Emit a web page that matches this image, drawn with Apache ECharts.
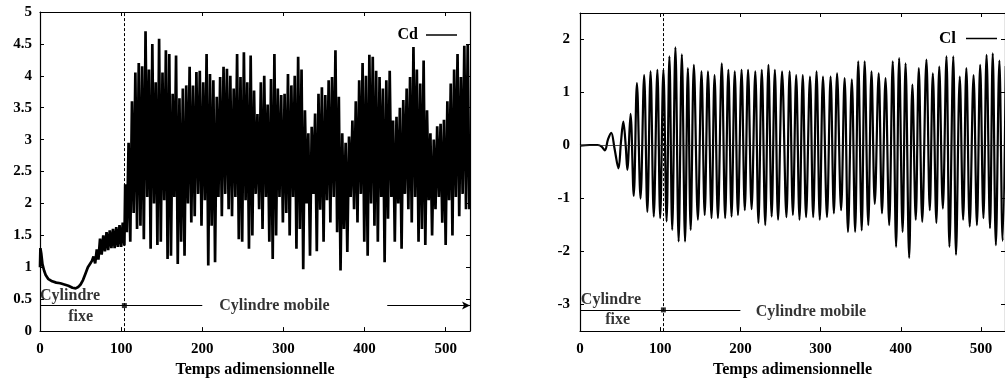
<!DOCTYPE html>
<html><head><meta charset="utf-8">
<script src="https://cdn.jsdelivr.net/npm/echarts@6/dist/echarts.min.js"></script>
<style>html,body{margin:0;padding:0;background:#fff}#c{width:1005px;height:383px}</style>
</head><body><div id="c"></div>
<script>
// ---- tick labels ----
const timeTicks = [0, 100, 200, 300, 400, 500];
const cdTicks = [0, 0.5, 1, 1.5, 2, 2.5, 3, 3.5, 4, 4.5, 5];
const clTicks = [-3, -2, -1, 0, 1, 2];

// ---- Cd : fixed-cylinder phase [time, Cd] ----
const cdFixed = [[0,1.0],[0.5,1.3],[1.5,1.22],[3,1.05],[5,0.95],[7,0.88],[10,0.82],[15,0.78],[20,0.76],[25,0.75],[30,0.73],[35,0.71],[40,0.68],[44,0.67],[47,0.69],[50,0.73],[53,0.8],[56,0.9],[59,1.0],[62,1.06],[64,1.1],[66,1.17],[68,1.06],[70,1.28],[72,1.12],[74,1.45],[76,1.2],[78,1.5],[80,1.25],[82,1.55],[84,1.27],[86,1.58],[88,1.3],[90,1.6],[92,1.3],[94,1.63],[96,1.32],[98,1.66],[100,1.32],[102,1.7],[104,1.34]];

// ---- Cd : moving-cylinder phase, one max and one min per shedding cycle ----
const cdMoveStart = 105;
const cdPeriod = 4.18;
const cdMax = [2.30,2.95,3.60,4.05,4.20,4.15,4.70,4.10,4.50,3.90,
 4.58,4.05,4.40,4.34,3.72,4.32,3.65,3.80,3.85,4.14,
 3.85,4.06,4.08,3.90,4.34,4.03,3.93,3.67,3.98,4.14,
 4.11,4.00,3.80,4.34,3.98,4.37,3.90,4.32,3.77,3.40,
 3.90,4.00,3.55,3.95,4.34,3.80,3.70,3.72,4.03,3.85,
 4.00,4.30,4.10,3.46,3.10,3.20,3.41,3.72,3.82,3.70,
 3.93,3.98,4.40,3.67,3.10,2.95,3.05,3.30,3.60,3.93,
 4.20,4.00,4.33,4.30,4.08,3.98,3.80,3.93,4.08,3.30,
 3.36,3.50,3.62,3.80,3.98,4.45,4.10,3.88,4.24,3.46,
 3.10,3.00,3.21,3.25,3.31,3.60,3.88,4.10,4.34,3.98,
 4.47,4.50];
const cdMin = [1.55,1.40,1.85,1.60,1.65,1.44,2.10,1.29,2.00,1.35,
 1.40,2.05,1.13,1.18,2.10,1.05,1.40,1.18,2.00,1.70,
 1.80,2.15,1.65,2.05,1.03,1.65,1.08,2.10,1.80,2.15,
 1.91,1.80,2.10,1.44,1.40,2.05,1.29,1.50,2.15,1.91,
 1.60,2.10,1.40,1.13,1.50,2.10,1.70,1.85,1.50,2.10,
 1.29,1.60,0.97,2.00,1.18,2.15,1.25,1.90,1.40,2.05,
 1.70,2.10,1.55,0.95,1.60,1.24,2.10,1.91,1.70,2.15,
 1.40,1.18,2.00,1.65,1.40,2.10,1.08,1.76,2.10,1.40,
 2.00,1.29,2.15,1.91,1.70,2.10,1.40,1.60,1.35,2.05,
 1.50,1.91,2.10,1.70,1.35,2.05,1.50,2.10,1.80,2.15,
 1.91,1.91];

// ---- Cl : extrema [time, Cl] ----
const clData = [[0,0],[12,0.01],[22,0.01],[27,-0.02],[31,-0.09],[35,0.12],[39,0.24],[43,-0.05],[48,-0.43],[51,0.05],[54,0.45],[57,0.0],[59,-0.46],[63,0.6],[67,-0.95],[71,1.18],[75.5,-1.0],[80,1.33],[84,-1.25],[88,1.40],[92,-1.34],[96.5,1.43],[100,-1.37],[104,1.43],[108,-1.43],[111.5,1.68],[115,-1.59],[119,1.85],[123,-1.81],[127,1.72],[131,-1.81],[134.5,1.46],[138,-1.59],[142,1.52],[147,-1.40],[151.5,1.40],[155.5,-1.31],[159.6,1.40],[164,-1.37],[167.8,1.33],[172,-1.37],[176.8,1.55],[181,-1.37],[185,1.43],[189,-1.34],[193,1.40],[197,-1.31],[201.5,1.43],[205.5,-1.22],[209.6,1.43],[214,-1.20],[218.6,1.40],[222.5,-1.46],[226.7,1.43],[231,-1.50],[235,1.52],[239,-1.34],[243,1.43],[247,-1.40],[252,1.40],[257.4,-1.35],[261.4,1.40],[265.5,-1.31],[269.6,1.33],[273.7,-1.40],[277.8,1.33],[281.9,-1.35],[286.8,1.30],[290.8,-1.35],[295,1.40],[299,-1.40],[303,1.30],[308,-1.35],[312.5,1.30],[316.6,-1.28],[320.6,1.36],[325.6,-1.22],[330,1.27],[334.2,-1.63],[339,1.25],[343.1,-1.63],[347,1.59],[351.3,-1.60],[355,1.59],[359.5,-1.50],[363.5,1.40],[367.6,-1.10],[372.5,1.36],[376.6,-1.28],[381,1.27],[385.6,-1.50],[390,1.59],[394.2,-1.91],[398,1.65],[402.3,-1.63],[406,1.55],[410.5,-2.12],[414.5,1.15],[418.7,-1.40],[422.5,1.46],[426.8,-1.44],[432,1.62],[436.2,-1.22],[440,1.36],[444.4,-1.46],[448,1.49],[452.5,-1.19],[457,1.68],[460.7,-1.91],[465.5,1.68],[468.9,-2.06],[473.6,1.30],[477.8,-1.40],[481.8,1.46],[486,-1.53],[490.8,1.33],[495,-1.50],[499,1.52],[503.1,-1.37],[507,1.71],[511.3,-1.56],[514.7,1.74],[518.6,-1.88],[523,1.60],[527,-1.80],[531,1.50]];

// ---- annotations (data coordinates) ----
const moveTime = 104;
const cdPhaseLevel = 0.4;
const clPhaseLevel = -3.1;
const fixedSpan = [0, 200];
const mobileArrowSpan = [428, 530];
const clMobileArrowSpan = [429, 545];
const cdNotes = [
  {name: 'Cylindre', value: [0, 0.55], pos: 'right'},
  {name: 'fixe', value: [50, 0.22], pos: 'inside'},
  {name: 'Cylindre mobile', value: [289, 0.40], pos: 'inside'}
];
const clNotes = [
  {name: 'Cylindre', value: [1, -2.91], pos: 'right'},
  {name: 'fixe', value: [47, -3.29], pos: 'inside'},
  {name: 'Cylindre mobile', value: [288, -3.14], pos: 'inside'}
];

// ---- build series data ----
const cdSeriesData = cdFixed.slice();
for (let i = 0; i < cdMax.length; i++) {
  const t = cdMoveStart + i * cdPeriod;
  cdSeriesData.push([t, cdMax[i]]);
  cdSeriesData.push([t + cdPeriod / 2, cdMin[i]]);
}

const FONT = "'Liberation Serif', 'DejaVu Serif', serif";
const txt = {color: '#000', fontFamily: FONT, fontWeight: 'bold', fontSize: 15};

function xAx(grid, pos, show) {
  return {
    type: 'value', gridIndex: grid, position: pos, min: 0, max: 530,
    axisLine: {show: true, onZero: false, lineStyle: {color: '#000', width: 1.2}},
    axisTick: {show: true, inside: true, length: 4, customValues: timeTicks, lineStyle: {color: '#000'}},
    axisLabel: Object.assign({show: show, margin: 11, customValues: timeTicks}, txt),
    splitLine: {show: false},
    name: show ? 'Temps adimensionnelle' : '', nameLocation: 'middle', nameGap: 28,
    nameTextStyle: Object.assign({}, txt, {fontSize: 16})
  };
}
function yAx(grid, pos, show, min, max, ticks, margin) {
  return {
    type: 'value', gridIndex: grid, position: pos, min: min, max: max,
    axisLine: {show: true, onZero: false, lineStyle: {color: '#000', width: 1.2}},
    axisTick: {show: true, inside: true, length: 4, customValues: ticks, lineStyle: {color: '#000'}},
    axisLabel: Object.assign({show: show, margin: margin, customValues: ticks}, txt),
    splitLine: {show: false}
  };
}

function notesSeries(xi, yi, notes) {
  return {
    type: 'scatter', xAxisIndex: xi, yAxisIndex: yi, symbolSize: 0.1,
    itemStyle: {color: 'rgba(0,0,0,0)'}, silent: true, z: 5,
    data: notes.map(n => ({name: n.name, value: n.value,
      label: {show: true, position: n.pos, distance: 0, formatter: '{b}', color: '#000',
        fontFamily: FONT, fontWeight: 'bold', fontSize: 16}}))
  };
}

function phaseSeries(xi, yi, level, arrowSpan, zeroLine) {
  return {
    type: 'scatter', xAxisIndex: xi, yAxisIndex: yi, symbol: 'rect', symbolSize: 5,
    itemStyle: {color: '#000'}, z: 6, silent: true,
    data: [[moveTime, level]],
    markLine: {
      silent: true, animation: false, symbol: 'none', label: {show: false},
      lineStyle: {color: '#000', width: 1.2, type: 'solid'},
      data: [
        {xAxis: moveTime, lineStyle: {type: [3, 2], width: 1}},
        [{coord: [fixedSpan[0], level], symbol: 'none'}, {coord: [fixedSpan[1], level], symbol: 'none'}],
        [{coord: [arrowSpan[0], level], symbol: 'none'}, {coord: [arrowSpan[1], level], symbol: 'arrow', symbolSize: [6, 8]}]
      ].concat(zeroLine ? [{yAxis: 0, lineStyle: {width: 0.8, color: '#222'}}] : [])
    }
  };
}

const chart = echarts.init(document.getElementById('c'), null, {renderer: 'canvas'});
chart.setOption({
  animation: false,
  backgroundColor: '#fff',
  grid: [
    {left: 40, right: 535, top: 12, bottom: 49.5, show: false},
    {left: 580, right: -7.5, top: 13, bottom: 47, show: false}
  ],
  legend: [
    {data: ['Cd'], right: 543, top: 22, align: 'right', icon: 'rect', itemWidth: 31, itemHeight: 1.5,
     textStyle: Object.assign({}, txt, {fontSize: 16, padding: [0, 3, 0, 0]}), selectedMode: false},
    {data: ['Cl'], right: 3, top: 25, align: 'right', icon: 'rect', itemWidth: 31, itemHeight: 1.5,
     textStyle: Object.assign({}, txt, {fontSize: 17, padding: [0, 5, 0, 0]}), selectedMode: false}
  ],
  xAxis: [xAx(0, 'bottom', true), xAx(0, 'top', false), xAx(1, 'bottom', true), xAx(1, 'top', false)],
  yAxis: [
    yAx(0, 'left', true, 0, 5, cdTicks, 8), yAx(0, 'right', false, 0, 5, cdTicks, 8),
    yAx(1, 'left', true, -3.5, 2.5, clTicks, 10), yAx(1, 'right', false, -3.5, 2.5, clTicks, 10)
  ],
  series: [
    {name: 'Cd', type: 'line', xAxisIndex: 0, yAxisIndex: 0, data: cdSeriesData, symbol: 'none',
     lineStyle: {color: '#000', width: 2.7}, itemStyle: {color: '#000'}, clip: true, z: 3},
    {name: 'Cl', type: 'line', xAxisIndex: 2, yAxisIndex: 2, data: clData, symbol: 'none', smooth: 0.35,
     lineStyle: {color: '#000', width: 2.2}, itemStyle: {color: '#000'}, clip: true, z: 3},
    phaseSeries(0, 0, cdPhaseLevel, mobileArrowSpan, false),
    phaseSeries(2, 2, clPhaseLevel, clMobileArrowSpan, true),
    notesSeries(0, 0, cdNotes),
    notesSeries(2, 2, clNotes)
  ]
});
</script>
</body></html>
